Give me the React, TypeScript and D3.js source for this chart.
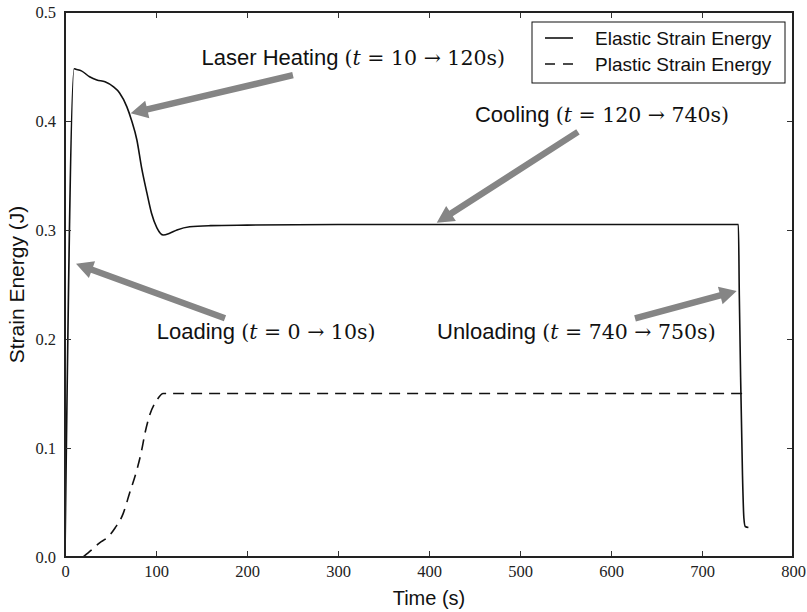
import React, { useEffect, useRef } from "react";
import * as d3 from "d3";

// elastic strain energy (J) vs time (s)
const elasticTime = [0, 10, 12, 18, 27, 35, 44, 53, 60, 68, 73, 79, 84, 90, 95, 101, 108, 115, 123, 137, 160, 200, 300, 400, 500, 600, 700, 740, 741, 742.5, 744.5, 746, 747.5, 751];
const elasticEnergy = [0, 0.448, 0.4475, 0.446, 0.4406, 0.4376, 0.436, 0.4315, 0.4257, 0.413, 0.401, 0.3826, 0.358, 0.334, 0.3156, 0.302, 0.2954, 0.297, 0.3, 0.303, 0.304, 0.3045, 0.305, 0.305, 0.305, 0.305, 0.305, 0.305, 0.24, 0.162, 0.075, 0.036, 0.028, 0.027];

// plastic strain energy
const plasticTime = [20, 30, 38, 46, 55, 64, 71, 79, 84, 88, 93, 101, 108, 120, 750];
const plasticEnergy = [0, 0.007, 0.013, 0.0174, 0.0266, 0.04, 0.0587, 0.08, 0.097, 0.114, 0.13, 0.144, 0.15, 0.15, 0.15];

const xTicks = [0, 100, 200, 300, 400, 500, 600, 700, 800];
const yTicks = [0, 0.1, 0.2, 0.3, 0.4, 0.5];

const legendLabels = ["Elastic Strain Energy", "Plastic Strain Energy"];

// annotations: label text, text anchor (data), arrow tail and tip (data)
const annoWords = ["Laser Heating", "Cooling", "Loading", "Unloading"];
const annoMath = [["10", "120s"], ["120", "740s"], ["0", "10s"], ["740", "750s"]];
const annoTextAt = [[150, 0.451], [450.5, 0.399], [100.8, 0.2], [408.8, 0.2]];
const arrowTail = [[250.5, 0.442], [563.7, 0.39], [175.8, 0.219], [626.4, 0.219]];
const arrowTip = [[72.2, 0.407], [408.5, 0.3067], [12.1, 0.269], [738.1, 0.244]];

const W = 807, H = 612;
const margin = { top: 12, right: 14, bottom: 55, left: 65 };
const SANS = "'Liberation Sans', Arial, sans-serif";
const SERIF = "'DejaVu Serif', serif";
const TICKSERIF = "'Liberation Serif', serif";

function arrowPoints(x1: number, y1: number, x2: number, y2: number) {
  const dx = x2 - x1, dy = y2 - y1;
  const L = Math.hypot(dx, dy);
  const ux = dx / L, uy = dy / L, nx = -uy, ny = ux;
  const hl = 17, hw = 9, sw = 3.2;
  const bx = x2 - ux * hl, by = y2 - uy * hl;
  const pts = [
    [x1 + nx * sw, y1 + ny * sw],
    [bx + nx * sw, by + ny * sw],
    [bx + nx * hw, by + ny * hw],
    [x2, y2],
    [bx - nx * hw, by - ny * hw],
    [bx - nx * sw, by - ny * sw],
    [x1 - nx * sw, y1 - ny * sw],
  ];
  return pts.map(p => p.join(",")).join(" ");
}

export default function App() {
  const ref = useRef<SVGSVGElement>(null);

  useEffect(() => {
    const svg = d3.select(ref.current);
    svg.selectAll("*").remove();
    const w = W - margin.left - margin.right;
    const h = H - margin.top - margin.bottom;

    const x = d3.scaleLinear().domain([0, 800]).range([margin.left, margin.left + w]);
    const y = d3.scaleLinear().domain([0, 0.5]).range([margin.top + h, margin.top]);

    const line = d3.line<[number, number]>()
      .x(d => x(d[0]))
      .y(d => y(d[1]))
      .curve(d3.curveMonotoneX);

    const elastic: [number, number][] = elasticTime.map((t, i) => [t, elasticEnergy[i]]);
    const plastic: [number, number][] = plasticTime.map((t, i) => [t, plasticEnergy[i]]);

    svg.append("path").attr("d", line(elastic)!)
      .attr("fill", "none").attr("stroke", "#111").attr("stroke-width", 1.6);
    svg.append("path").attr("d", line(plastic)!)
      .attr("fill", "none").attr("stroke", "#111").attr("stroke-width", 1.6)
      .attr("stroke-dasharray", "11,7");

    // axes with inward ticks
    const bottom = svg.append("g").attr("transform", `translate(0,${margin.top + h})`)
      .call(d3.axisBottom(x).tickValues(xTicks).tickSize(-6).tickPadding(8).tickFormat(d3.format("d")));
    const left = svg.append("g").attr("transform", `translate(${margin.left},0)`)
      .call(d3.axisLeft(y).tickValues(yTicks).tickSize(-6).tickPadding(9).tickFormat(d3.format(".1f")));
    const top = svg.append("g").attr("transform", `translate(0,${margin.top})`)
      .call(d3.axisTop(x).tickValues(xTicks).tickSize(-6).tickFormat(() => ""));
    const right = svg.append("g").attr("transform", `translate(${margin.left + w},0)`)
      .call(d3.axisRight(y).tickValues(yTicks).tickSize(-6).tickFormat(() => ""));
    [bottom, left, top, right].forEach(g => {
      g.select(".domain").remove();
      g.selectAll("line").attr("stroke", "#333").attr("stroke-width", 1);
      g.selectAll("text").attr("font-family", TICKSERIF).attr("font-size", 16.5).attr("fill", "#222");
    });

    svg.append("rect")
      .attr("x", margin.left).attr("y", margin.top).attr("width", w).attr("height", h)
      .attr("fill", "none").attr("stroke", "#222").attr("stroke-width", 2);

    // axis titles
    svg.append("text").attr("x", x(400)).attr("y", 605)
      .attr("text-anchor", "middle").attr("font-family", SANS).attr("font-size", 20)
      .attr("fill", "#111").text("Time (s)");
    svg.append("text").attr("transform", `translate(24,${y(0.25)}) rotate(-90)`)
      .attr("text-anchor", "middle").attr("font-family", SANS).attr("font-size", 21)
      .attr("fill", "#111").text("Strain Energy (J)");

    // arrows
    arrowTail.forEach((t, i) => {
      svg.append("polygon")
        .attr("points", arrowPoints(x(t[0]), y(t[1]), x(arrowTip[i][0]), y(arrowTip[i][1])))
        .attr("fill", "#858585");
    });

    // annotation labels
    annoWords.forEach((word, i) => {
      const txt = svg.append("text")
        .attr("x", x(annoTextAt[i][0])).attr("y", y(annoTextAt[i][1]))
        .attr("fill", "#111").attr("font-size", 22);
      txt.append("tspan").attr("font-family", SANS).text(word + " ");
      txt.append("tspan").attr("font-family", SERIF).attr("font-size", 20.5).text("(");
      txt.append("tspan").attr("font-family", SERIF).attr("font-size", 20.5).attr("font-style", "italic").text("t");
      txt.append("tspan").attr("font-family", SERIF).attr("font-size", 20.5)
        .text(` = ${annoMath[i][0]} \u2192 ${annoMath[i][1]})`);
    });

    // legend
    const lg = svg.append("g");
    lg.append("rect").attr("x", 532).attr("y", 22).attr("width", 253).attr("height", 61)
      .attr("fill", "white").attr("stroke", "#111").attr("stroke-width", 1);
    legendLabels.forEach((lab, i) => {
      const yy = 38 + i * 26;
      lg.append("line").attr("x1", 545).attr("x2", 573).attr("y1", yy).attr("y2", yy)
        .attr("stroke", "#111").attr("stroke-width", 1.6)
        .attr("stroke-dasharray", i === 1 ? "10,8" : null);
      lg.append("text").attr("x", 595).attr("y", yy + 7)
        .attr("font-family", SANS).attr("font-size", 19).attr("fill", "#111").text(lab);
    });
  }, []);

  return (
    <svg ref={ref} width={W} height={H}
      style={{ position: "absolute", left: 0, top: 0, background: "white" }} />
  );
}
